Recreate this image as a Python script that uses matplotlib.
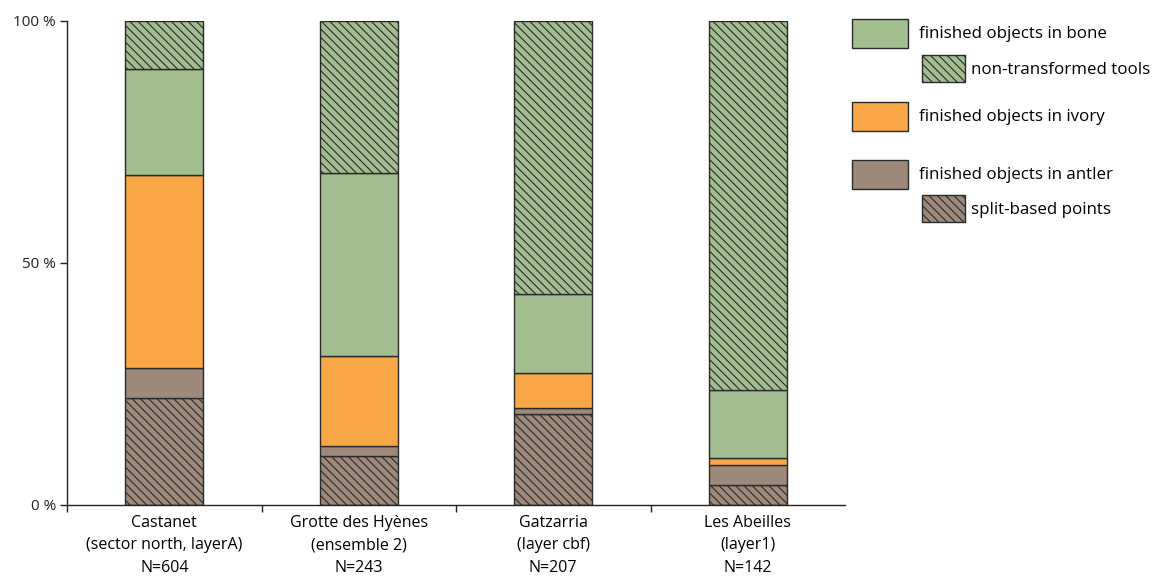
import matplotlib
matplotlib.use("Agg")
import matplotlib.pyplot as plt
from matplotlib.patches import Rectangle
import numpy as np

plt.rcParams['font.family'] = ['Open Sans', 'DejaVu Sans']
plt.rcParams['hatch.linewidth'] = 0.8

sites = ["Castanet\n(sector north, layerA)\nN=604",
         "Grotte des Hyènes\n(ensemble 2)\nN=243",
         "Gatzarria\n(layer cbf)\nN=207",
         "Les Abeilles\n(layer1)\nN=142"]

split_based = [22.1, 10.2, 18.9, 4.1]
antler = [6.2, 1.9, 1.2, 4.2]
ivory = [39.9, 18.6, 7.2, 1.4]
bone = [21.9, 37.9, 16.3, 14.1]
non_transformed = [9.9, 31.4, 56.4, 76.2]

yticks = [0, 50, 100]
ytick_labels = ["0 %", "50 %", "100 %"]

GREEN = "#A2BD8F"
ORANGE = "#F9A646"
BROWN = "#9D887A"
EDGE = "#2a2a2a"

series = [
    (split_based, BROWN, "\\\\\\\\"),
    (antler, BROWN, None),
    (ivory, ORANGE, None),
    (bone, GREEN, None),
    (non_transformed, GREEN, "\\\\\\\\"),
]

fig = plt.figure(figsize=(11.52, 5.77), dpi=100)
ax = fig.add_axes([67/1152, 1-505/577, (845-67)/1152, (505-21)/577])

x = np.arange(len(sites)) + 0.5
bottom = np.zeros(len(sites))
for vals, col, hatch in series:
    v = np.array(vals)
    ax.bar(x, v, width=0.4, bottom=bottom, color=col, edgecolor=EDGE,
           linewidth=1.0, hatch=hatch)
    bottom += v

ax.set_xlim(0, 4)
ax.set_ylim(0, 100)
ax.spines['top'].set_visible(False)
ax.spines['right'].set_visible(False)
for s in ['left', 'bottom']:
    ax.spines[s].set_linewidth(1.0)
    ax.spines[s].set_color('#222222')

ax.set_yticks(yticks)
ax.set_yticklabels(ytick_labels, fontsize=11)
ax.tick_params(axis='y', length=5, width=1, pad=3, colors='#222222')
ax.set_xticks([0, 1, 2, 3])
ax.set_xticklabels([])
ax.tick_params(axis='x', which='major', length=5, width=1, colors='#222222')
ax.set_xticks(x, minor=True)
ax.set_xticklabels(sites, minor=True, fontsize=11.5, linespacing=1.55)
ax.tick_params(axis='x', which='minor', length=0, pad=7)

# legend (custom)
def fig_rect(x0, y0, x1, y1, color, hatch=None):
    r = Rectangle((x0/1152, 1-y1/577), (x1-x0)/1152, (y1-y0)/577,
                  transform=fig.transFigure, facecolor=color, edgecolor=EDGE,
                  linewidth=1.0, hatch=hatch)
    fig.patches.append(r)

def fig_text(xp, yp, s):
    fig.text(xp/1152, 1-yp/577, s, fontsize=12.2, va='center', ha='left')

fig_rect(852, 19, 908, 48, GREEN)
fig_text(919, 34, "finished objects in bone")
fig_rect(922, 55, 965, 82, GREEN, "\\\\\\\\")
fig_text(971, 70, "non-transformed tools")
fig_rect(852, 102, 908, 131, ORANGE)
fig_text(919, 117, "finished objects in ivory")
fig_rect(852, 160, 908, 189, BROWN)
fig_text(919, 175, "finished objects in antler")
fig_rect(922, 195, 965, 222, BROWN, "\\\\\\\\")
fig_text(971, 210, "split-based points")

fig.savefig("out.png", dpi=100)
